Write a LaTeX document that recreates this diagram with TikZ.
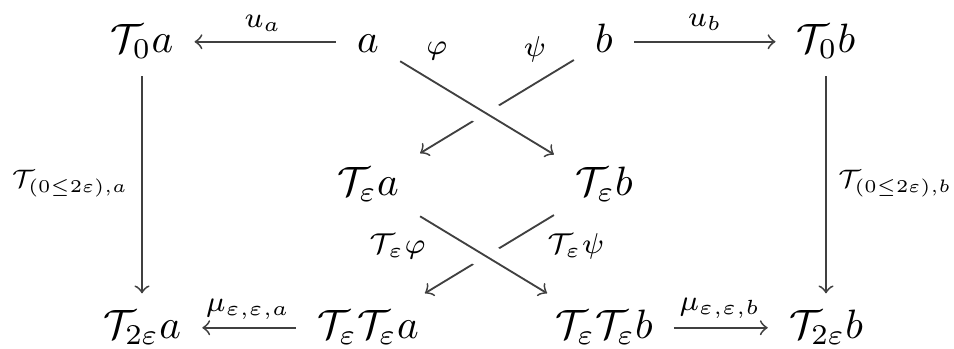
\documentclass[tikz,border=0pt]{standalone}
\usepackage{amsmath,amssymb}
\begin{document}
\begin{tikzpicture}[x=0.2439pt,y=-0.2439pt,
  obj/.style={anchor=base, inner xsep=5pt, inner ysep=3.7pt, text height=7pt, text depth=2pt},
  lbl/.style={inner sep=0pt},
  arr/.style={->, line width=0.45pt, draw=black!75},
  over/.style={preaction={draw=white, line width=6.5pt, -, shorten >=14pt, shorten <=14pt}}]
\useasboundingbox (0,0) rectangle (954,348);
% objects
\node[obj] (T0a) at (142,52) {$\mathcal{T}_0a$};
\node[obj] (a)   at (368,52) {$a$};
\node[obj] (b)   at (604,52) {$b$};
\node[obj] (T0b) at (826,52) {$\mathcal{T}_0b$};
\node[obj] (Tea) at (368,195) {$\mathcal{T}_\varepsilon a$};
\node[obj] (Teb) at (604,195) {$\mathcal{T}_\varepsilon b$};
\node[obj] (T2a) at (142,338) {$\mathcal{T}_{2\varepsilon}a$};
\node[obj] (TTa) at (368,338) {$\mathcal{T}_\varepsilon\mathcal{T}_\varepsilon a$};
\node[obj] (TTb) at (604,338) {$\mathcal{T}_\varepsilon\mathcal{T}_\varepsilon b$};
\node[obj] (T2b) at (826,338) {$\mathcal{T}_{2\varepsilon}b$};
% connectors
\draw[arr] (a) -- (T0a);
\draw[arr] (b) -- (T0b);
\draw[arr] (T0a) -- (T2a);
\draw[arr] (T0b) -- (T2b);
\draw[arr] (TTa) -- (T2a);
\draw[arr] (TTb) -- (T2b);
\draw[arr] (b) -- (Tea);
\draw[arr, over] (a) -- (Teb);
\draw[arr] (Teb) -- (TTa);
\draw[arr, over] (Tea) -- (TTb);
% labels
\node[lbl] (lua) at (263,23) {$\scriptstyle u_a$};
\node[lbl] (lub) at (705,22) {$\scriptstyle u_b$};
\node[lbl] (lphi) at (437,51) {$\scriptstyle \varphi$};
\node[lbl] (lpsi) at (535,49) {$\scriptstyle \psi$};
\node[lbl] (lva) at (70,184) {\scalebox{0.88}{$\scriptstyle \mathcal{T}_{(0\leq 2\varepsilon),a}$}};
\node[lbl] (lvb) at (895,184) {\scalebox{0.88}{$\scriptstyle \mathcal{T}_{(0\leq 2\varepsilon),b}$}};
\node[lbl] (ltphi) at (398,246) {$\scriptstyle \mathcal{T}_\varepsilon\varphi$};
\node[lbl] (ltpsi) at (576,246) {$\scriptstyle \mathcal{T}_\varepsilon\psi$};
\node[lbl] (lmua) at (248,309) {$\scriptstyle \mu_{\varepsilon,\varepsilon,a}$};
\node[lbl] (lmub) at (720,308) {$\scriptstyle \mu_{\varepsilon,\varepsilon,b}$};
\end{tikzpicture}
\end{document}
